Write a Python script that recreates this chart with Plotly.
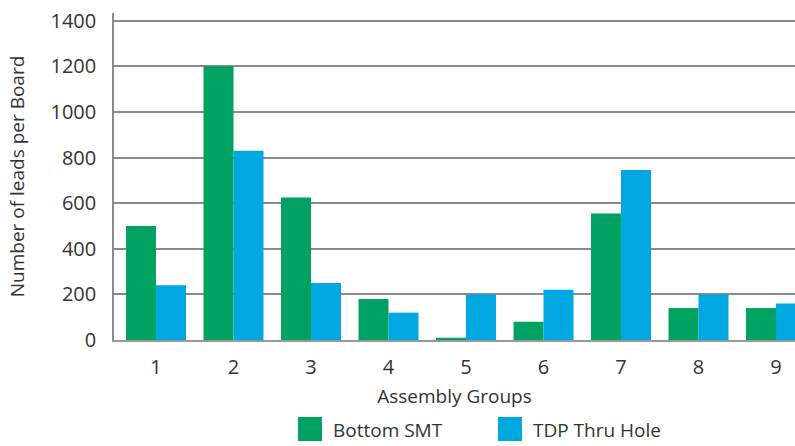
import plotly.graph_objects as go

groups = [1, 2, 3, 4, 5, 6, 7, 8, 9]
tick_labels = ["1", "2", "3", "4", "5", "6", "7", "8", "9"]
bottom_smt = [500, 1200, 625, 180, 10, 80, 555, 140, 140]
tdp_thru_hole = [240, 830, 250, 120, 200, 220, 745, 200, 160]
series_names = ["Bottom SMT", "TDP Thru Hole"]
colors = ["#00A262", "#00A8E2"]

FONT = "Open Sans"
TXT = "#333333"
FS = 20

fig = go.Figure()
fig.add_trace(go.Bar(x=groups, y=bottom_smt, name=series_names[0],
                     marker=dict(color=colors[0], line=dict(width=0)), showlegend=False))
fig.add_trace(go.Bar(x=groups, y=tdp_thru_hole, name=series_names[1],
                     marker=dict(color=colors[1], line=dict(width=0)), showlegend=False))

# Manual legend (large square swatches)
L, R, T, B = 114, 795, 13, 340
W, H = R - L, B - T
def px(x): return (x - L) / W
def py(y): return (B - y) / H

shapes = []
annotations = []
legend_items = [(298, series_names[0], colors[0]), (498, series_names[1], colors[1])]
for x0, name, col in legend_items:
    shapes.append(dict(type="rect", xref="paper", yref="paper",
                       x0=px(x0), x1=px(x0 + 24), y0=py(441), y1=py(417),
                       fillcolor=col, line=dict(width=0)))
    annotations.append(dict(xref="paper", yref="paper", x=px(x0 + 33), y=py(430),
                            xanchor="left", yanchor="middle", showarrow=False,
                            text=name, font=dict(family=FONT, size=FS - 1, color=TXT)))

fig.update_layout(
    width=795, height=446,
    margin=dict(l=L, r=0, t=T, b=446 - B, autoexpand=False),
    paper_bgcolor="white", plot_bgcolor="white",
    barmode="group", bargap=0.226, bargroupgap=0,
    font=dict(family=FONT, size=FS, color=TXT),
    shapes=shapes, annotations=annotations,
    showlegend=False,
)
fig.update_xaxes(
    range=[0.458, 9.245], tickvals=groups, ticktext=tick_labels,
    showgrid=False, zeroline=False, showline=True, linecolor="#999999", linewidth=2,
    ticks="", ticklabelstandoff=8,
    title=dict(text="Assembly Groups", font=dict(family=FONT, size=FS - 1, color=TXT), standoff=11),
    automargin=False,
)
fig.update_yaxes(
    range=[0, 1434], tickvals=[0, 200, 400, 600, 800, 1000, 1200, 1400],
    showgrid=True, gridcolor="#8a8a8a", gridwidth=1.5, zeroline=False,
    showline=True, linecolor="#8a8a8a", linewidth=1.5,
    ticks="", ticklabelstandoff=12,
    title=dict(text="Number of leads per Board", font=dict(family=FONT, size=FS - 1, color=TXT), standoff=21),
    automargin=False,
)

fig.write_html("out.html", config={"responsive": False, "displayModeBar": False},
               post_script="document.body.style.margin='0';document.body.style.overflow='hidden';")
